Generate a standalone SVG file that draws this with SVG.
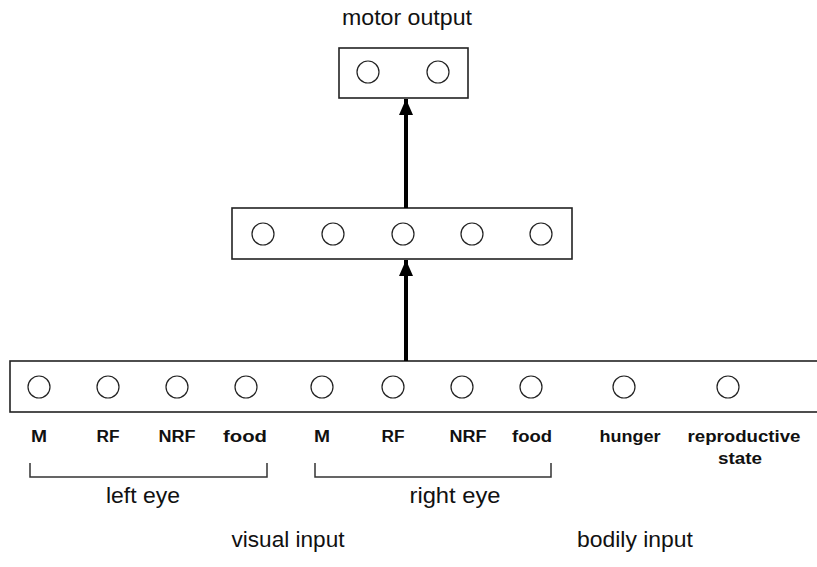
<svg xmlns="http://www.w3.org/2000/svg" width="817" height="567" viewBox="0 0 817 567">
<defs>
<style>
.box{fill:none;stroke:#222;stroke-width:1.6}
.unit{fill:none;stroke:#222;stroke-width:1.2}
.conn{stroke:#000;stroke-width:4;fill:none}
.br{fill:none;stroke:#333;stroke-width:1.5}
.t{font-family:"Liberation Sans",Arial,sans-serif;font-size:22.5px;fill:#111;text-anchor:middle}
.lb{font-family:"Liberation Sans",Arial,sans-serif;font-size:16px;font-weight:bold;fill:#111;text-anchor:middle}
</style>
<marker id="ah" viewBox="0 0 16 14" refX="16" refY="7" markerWidth="16" markerHeight="14" markerUnits="userSpaceOnUse" orient="auto">
<path d="M0,0 L16,7 L0,14 Z" fill="#000"/>
</marker>
</defs>
<rect width="817" height="567" fill="#fff"/>

<g id="motor-output">
<rect class="box" x="339" y="48" width="129" height="50"/>
<circle class="unit" cx="368" cy="72" r="11"/>
<circle class="unit" cx="438" cy="72" r="11"/>
<text class="t" x="407" y="25" textLength="130" lengthAdjust="spacingAndGlyphs">motor output</text>
</g>

<g id="hidden-layer">
<rect class="box" x="232" y="208" width="340" height="51"/>
<circle class="unit" cx="263" cy="234" r="11"/>
<circle class="unit" cx="333" cy="234" r="11"/>
<circle class="unit" cx="403" cy="234" r="11"/>
<circle class="unit" cx="472" cy="234" r="11"/>
<circle class="unit" cx="541" cy="234" r="11"/>
</g>

<g id="input-layer">
<rect class="box" x="10" y="361" width="815" height="51"/>
<circle class="unit" cx="39" cy="387" r="11"/>
<circle class="unit" cx="108" cy="387" r="11"/>
<circle class="unit" cx="177" cy="387" r="11"/>
<circle class="unit" cx="246" cy="387" r="11"/>
<circle class="unit" cx="322" cy="387" r="11"/>
<circle class="unit" cx="393" cy="387" r="11"/>
<circle class="unit" cx="462" cy="387" r="11"/>
<circle class="unit" cx="531" cy="387" r="11"/>
<circle class="unit" cx="624" cy="387" r="11"/>
<circle class="unit" cx="728" cy="387" r="11"/>
<text class="lb" x="39" y="442" textLength="16" lengthAdjust="spacingAndGlyphs">M</text>
<text class="lb" x="108" y="442" textLength="23" lengthAdjust="spacingAndGlyphs">RF</text>
<text class="lb" x="177" y="442" textLength="37" lengthAdjust="spacingAndGlyphs">NRF</text>
<text class="lb" x="245" y="442" textLength="44" lengthAdjust="spacingAndGlyphs">food</text>
<text class="lb" x="322" y="442" textLength="16" lengthAdjust="spacingAndGlyphs">M</text>
<text class="lb" x="393" y="442" textLength="23" lengthAdjust="spacingAndGlyphs">RF</text>
<text class="lb" x="468" y="442" textLength="37" lengthAdjust="spacingAndGlyphs">NRF</text>
<text class="lb" x="532" y="442" textLength="40" lengthAdjust="spacingAndGlyphs">food</text>
<text class="lb" x="630" y="442" textLength="61" lengthAdjust="spacingAndGlyphs">hunger</text>
<text class="lb" x="744" y="442" textLength="113" lengthAdjust="spacingAndGlyphs">reproductive</text>
<text class="lb" x="740" y="464" textLength="44" lengthAdjust="spacingAndGlyphs">state</text>
</g>

<g id="left-eye">
<path class="br" d="M30,463 V477 H267 V463"/>
<text class="t" x="143" y="503" textLength="74" lengthAdjust="spacingAndGlyphs">left eye</text>
</g>

<g id="right-eye">
<path class="br" d="M315,463 V477 H551 V463"/>
<text class="t" x="455" y="503" textLength="91" lengthAdjust="spacingAndGlyphs">right eye</text>
</g>

<g id="visual-input">
<text class="t" x="288" y="547" textLength="113" lengthAdjust="spacingAndGlyphs">visual input</text>
</g>

<g id="bodily-input">
<text class="t" x="635" y="547" textLength="116" lengthAdjust="spacingAndGlyphs">bodily input</text>
</g>

<g id="connectors">
<line class="conn" x1="406" y1="208" x2="406" y2="99" marker-end="url(#ah)"/>
<line class="conn" x1="406" y1="361" x2="406" y2="260" marker-end="url(#ah)"/>
</g>
</svg>
